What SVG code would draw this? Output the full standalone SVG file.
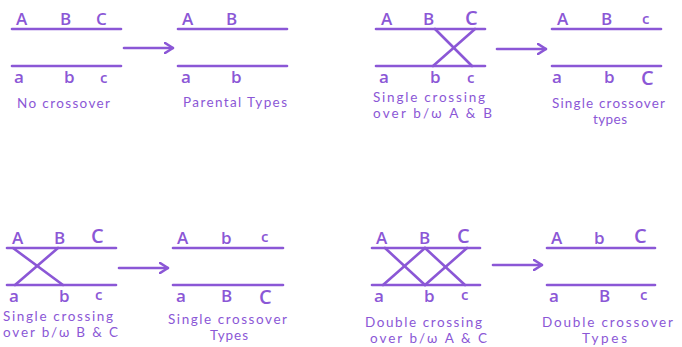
<svg xmlns="http://www.w3.org/2000/svg" width="682" height="347" viewBox="0 0 682 347">
<defs>
<style>
.ln{stroke:#8b57d6;stroke-width:2.6;stroke-linecap:round;fill:none}
.lb{font-family:"Open Sans","DejaVu Sans",sans-serif;font-size:17px;font-weight:600;fill:#8b57d6}
.big{font-size:20px}
.sm{font-size:15px}
.cap{font-family:Lato,"Open Sans",sans-serif;font-size:13.5px;fill:#8b57d6}
</style>
<marker id="ah" viewBox="0 0 10 12" refX="9" refY="6" markerWidth="10" markerHeight="12" markerUnits="userSpaceOnUse" orient="auto">
<path d="M1,1 L9,6 L1,11" fill="none" stroke="#8b57d6" stroke-width="2.6" stroke-linecap="round" stroke-linejoin="round"/>
</marker>
</defs>
<rect width="682" height="347" fill="#ffffff"/>

<g id="no-crossover">
<line class="ln" x1="12" y1="29" x2="121" y2="29"/>
<line class="ln" x1="12" y1="66" x2="121" y2="66"/>
<text class="lb" x="16" y="25">A</text><text class="lb" x="60" y="25">B</text><text class="lb" x="96" y="25">C</text>
<text class="lb" x="14" y="83">a</text><text class="lb" x="64" y="83">b</text><text class="lb sm" x="100" y="83">c</text>
<text class="cap" x="17" y="108" textLength="93" lengthAdjust="spacing">No crossover</text>
</g>

<g id="parental-types">
<line class="ln" x1="178" y1="29" x2="287" y2="29"/>
<line class="ln" x1="178" y1="66" x2="287" y2="66"/>
<text class="lb" x="182" y="25">A</text><text class="lb" x="226" y="25">B</text>
<text class="lb" x="181" y="83">a</text><text class="lb" x="231" y="83">b</text>
<text class="cap" x="183" y="107" textLength="104" lengthAdjust="spacing">Parental Types</text>
</g>

<g id="single-ab">
<line class="ln" x1="376" y1="29" x2="485" y2="29"/>
<line class="ln" x1="376" y1="66" x2="485" y2="66"/>
<line class="ln" x1="435" y1="29" x2="472" y2="66"/>
<line class="ln" x1="475" y1="29" x2="433" y2="66"/>
<text class="lb" x="381" y="25">A</text><text class="lb" x="423" y="25">B</text><text class="lb big" x="465" y="25">C</text>
<text class="lb" x="379" y="83">a</text><text class="lb" x="430" y="83">b</text><text class="lb sm" x="467" y="83">c</text>
<text class="cap" x="373" y="102" textLength="112" lengthAdjust="spacing">Single crossing</text>
<text class="cap" x="373" y="118" textLength="119" lengthAdjust="spacing">over b/ω A &amp; B</text>
</g>

<g id="single-ab-types">
<line class="ln" x1="552" y1="29" x2="661" y2="29"/>
<line class="ln" x1="552" y1="66" x2="661" y2="66"/>
<text class="lb" x="557" y="25">A</text><text class="lb" x="601" y="25">B</text><text class="lb sm" x="642" y="24">c</text>
<text class="lb" x="552" y="83">a</text><text class="lb" x="604" y="83">b</text><text class="lb big" x="641" y="85">C</text>
<text class="cap" x="552" y="108" textLength="113" lengthAdjust="spacing">Single crossover</text>
<text class="cap" x="593" y="124" textLength="34" lengthAdjust="spacing">types</text>
</g>

<g id="single-bc">
<line class="ln" x1="7" y1="248" x2="116" y2="248"/>
<line class="ln" x1="7" y1="285" x2="116" y2="285"/>
<line class="ln" x1="13" y1="248" x2="63" y2="285"/>
<line class="ln" x1="58" y1="248" x2="15" y2="285"/>
<text class="lb" x="12" y="244">A</text><text class="lb" x="54" y="244">B</text><text class="lb big" x="91" y="243">C</text>
<text class="lb" x="9" y="302">a</text><text class="lb" x="59" y="302">b</text><text class="lb sm" x="95" y="300">c</text>
<text class="cap" x="3" y="321" textLength="110" lengthAdjust="spacing">Single crossing</text>
<text class="cap" x="3" y="337" textLength="115" lengthAdjust="spacing">over b/ω B &amp; C</text>
</g>

<g id="single-bc-types">
<line class="ln" x1="173" y1="248" x2="283" y2="248"/>
<line class="ln" x1="173" y1="285" x2="283" y2="285"/>
<text class="lb" x="177" y="244">A</text><text class="lb" x="221" y="244">b</text><text class="lb sm" x="261" y="242">c</text>
<text class="lb" x="176" y="302">a</text><text class="lb" x="221" y="302">B</text><text class="lb big" x="259" y="304">C</text>
<text class="cap" x="168" y="324" textLength="119" lengthAdjust="spacing">Single crossover</text>
<text class="cap" x="210" y="340" textLength="38" lengthAdjust="spacing">Types</text>
</g>

<g id="double-ac">
<line class="ln" x1="372" y1="248" x2="480" y2="248"/>
<line class="ln" x1="372" y1="285" x2="480" y2="285"/>
<line class="ln" x1="385" y1="248" x2="425" y2="285"/>
<line class="ln" x1="425" y1="248" x2="383" y2="285"/>
<line class="ln" x1="425" y1="248" x2="465" y2="285"/>
<line class="ln" x1="467" y1="248" x2="425" y2="285"/>
<text class="lb" x="376" y="244">A</text><text class="lb" x="419" y="244">B</text><text class="lb big" x="457" y="243">C</text>
<text class="lb" x="374" y="302">a</text><text class="lb" x="424" y="302">b</text><text class="lb sm" x="461" y="300">c</text>
<text class="cap" x="365" y="327" textLength="117" lengthAdjust="spacing">Double crossing</text>
<text class="cap" x="370" y="343" textLength="117" lengthAdjust="spacing">over b/ω A &amp; C</text>
</g>

<g id="double-ac-types">
<line class="ln" x1="547" y1="248" x2="655" y2="248"/>
<line class="ln" x1="547" y1="285" x2="655" y2="285"/>
<text class="lb" x="551" y="244">A</text><text class="lb" x="594" y="244">b</text><text class="lb big" x="634" y="243">C</text>
<text class="lb" x="549" y="302">a</text><text class="lb" x="599" y="302">B</text><text class="lb sm" x="640" y="300">c</text>
<text class="cap" x="542" y="327" textLength="131" lengthAdjust="spacing">Double crossover</text>
<text class="cap" x="582" y="343" textLength="45" lengthAdjust="spacing">Types</text>
</g>

<g id="connectors">
<line class="ln" x1="124" y1="48" x2="173" y2="48" marker-end="url(#ah)"/>
<line class="ln" x1="497" y1="49" x2="546" y2="49" marker-end="url(#ah)"/>
<line class="ln" x1="119" y1="268" x2="168" y2="268" marker-end="url(#ah)"/>
<line class="ln" x1="493" y1="265" x2="542" y2="265" marker-end="url(#ah)"/>
</g>
</svg>
